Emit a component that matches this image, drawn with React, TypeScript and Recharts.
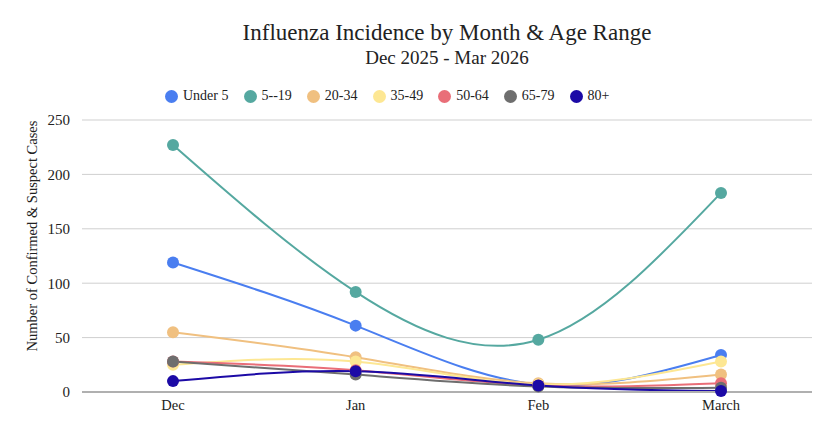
import React from 'react'
import { LineChart, Line, XAxis, YAxis, CartesianGrid } from 'recharts'

const months = ['Dec', 'Jan', 'Feb', 'March']
const under5 = [119, 61, 7, 34]
const age5to19 = [227, 92, 48, 183]
const age20to34 = [55, 32, 8, 16]
const age35to49 = [25, 28, 7, 28]
const age50to64 = [28, 20, 6, 8]
const age65to79 = [28, 16, 5, 4]
const age80plus = [10, 19, 6, 1]
const yTicks = [0, 50, 100, 150, 200, 250]

const series = [
  { key: 'under5', name: 'Under 5', color: '#4a7ef0', values: under5 },
  { key: 'age5to19', name: '5--19', color: '#55a8a0', values: age5to19 },
  { key: 'age20to34', name: '20-34', color: '#f0c080', values: age20to34 },
  { key: 'age35to49', name: '35-49', color: '#fde793', values: age35to49 },
  { key: 'age50to64', name: '50-64', color: '#e96e78', values: age50to64 },
  { key: 'age65to79', name: '65-79', color: '#6e6e6e', values: age65to79 },
  { key: 'age80plus', name: '80+', color: '#1c0aa6', values: age80plus },
]

const data = months.map((month, i) => {
  const row: Record<string, string | number> = { month }
  series.forEach((s) => {
    row[s.key] = s.values[i]
  })
  return row
})

const FONT = '"Liberation Serif", "DejaVu Serif", serif'

function YLabel({ viewBox }: any) {
  // label sits a bit above the plot's middle in the original
  const cx = 32
  const cy = viewBox.y + viewBox.height / 2 - 20
  return (
    <text
      x={cx}
      y={cy}
      transform={`rotate(-90 ${cx} ${cy})`}
      textAnchor="middle"
      dominantBaseline="central"
      fontSize={14.5}
      fill="#222"
      fontFamily={FONT}
    >
      Number of Confirmed &amp; Suspect Cases
    </text>
  )
}

export default function App() {
  return (
    <div
      style={{
        position: 'absolute',
        left: 0,
        top: 0,
        width: 840,
        height: 436,
        background: '#fff',
        fontFamily: FONT,
        color: '#222',
      }}
    >
      <div style={{ position: 'absolute', top: 18, left: 82, width: 730, textAlign: 'center', fontSize: 23, lineHeight: '30px' }}>
        Influenza Incidence by Month &amp; Age Range
      </div>
      <div style={{ position: 'absolute', top: 47, left: 82, width: 730, textAlign: 'center', fontSize: 19, lineHeight: '22px' }}>
        Dec 2025 - Mar 2026
      </div>
      <div style={{ position: 'absolute', top: 87, left: 165, display: 'flex', alignItems: 'center', fontSize: 14, lineHeight: '18px' }}>
        {series.map((s) => (
          <div key={s.key} style={{ display: 'flex', alignItems: 'center', marginRight: 15 }}>
            <span style={{ width: 13, height: 13, borderRadius: '50%', background: s.color, marginRight: 5, display: 'inline-block' }} />
            <span>{s.name}</span>
          </div>
        ))}
      </div>
      <LineChart
        width={840}
        height={436}
        data={data}
        margin={{ top: 120, right: 28, bottom: 14, left: 0 }}
        style={{ position: 'absolute', left: 0, top: 0 }}
      >
        <CartesianGrid vertical={false} stroke="#cfcfcf" />
        <XAxis
          dataKey="month"
          padding={{ left: 91, right: 91 }}
          tickLine={false}
          axisLine={{ stroke: '#b0b0b0', strokeWidth: 2 }}
          tick={{ fill: '#222', fontSize: 14.5, fontFamily: FONT }}
          tickMargin={2}
          height={30}
        />
        <YAxis
          domain={[0, 250]}
          ticks={yTicks}
          axisLine={false}
          tickLine={false}
          tickSize={0}
          tickMargin={12}
          width={82}
          tick={{ fill: '#222', fontSize: 15, fontFamily: FONT }}
          label={<YLabel />}
        />
        {series.map((s) => (
          <Line
            key={s.key}
            type="natural"
            dataKey={s.key}
            name={s.name}
            stroke={s.color}
            strokeWidth={2}
            dot={{ r: 6, fill: s.color, stroke: s.color, strokeWidth: 0 }}
            activeDot={false}
            isAnimationActive={false}
          />
        ))}
      </LineChart>
    </div>
  )
}
